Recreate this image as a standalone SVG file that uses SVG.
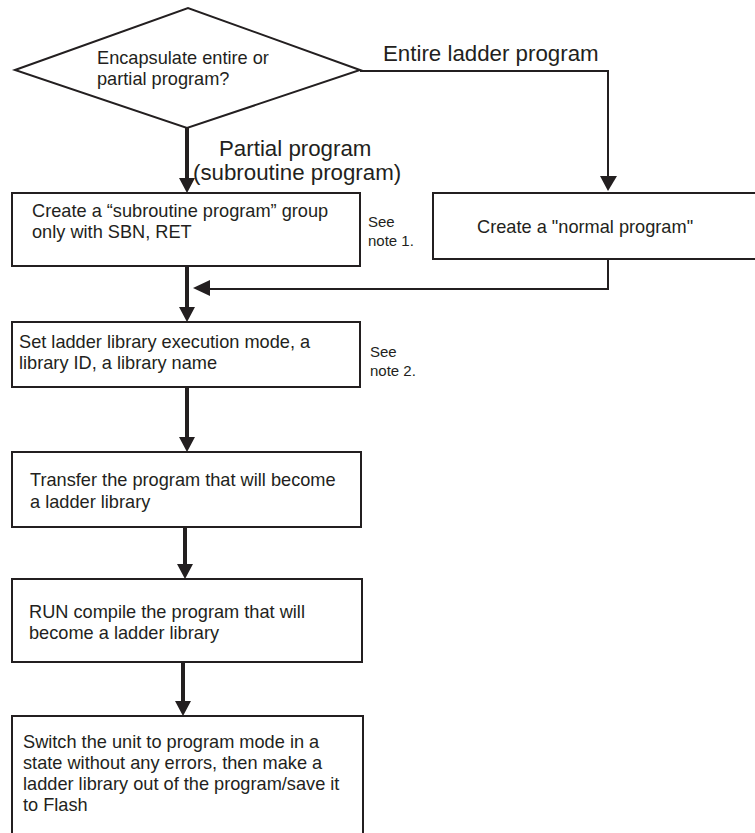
<svg xmlns="http://www.w3.org/2000/svg" width="755" height="833" viewBox="0 0 755 833">
<defs>
<style>
.n{fill:#fff;stroke:#231f20;stroke-width:2}
.t{font-family:"Liberation Sans",Arial,sans-serif;font-size:18.2px;fill:#231f20}
.l{font-family:"Liberation Sans",Arial,sans-serif;font-size:22.3px;fill:#231f20}
.s{font-family:"Liberation Sans",Arial,sans-serif;font-size:15px;fill:#231f20}
.c{fill:none;stroke:#231f20;stroke-width:2}
.k{fill:none;stroke:#231f20;stroke-width:4}
.a{fill:#231f20;stroke:none}
</style>
</defs>
<rect width="755" height="833" fill="#fff"/>
<g id="connectors">
<polyline class="c" points="360,71 608,71 608,178"/>
<polygon class="a" points="600,176 617,176 608,191"/>
<line class="k" x1="187" y1="128" x2="187" y2="180"/>
<polygon class="a" points="179,178 195,178 187,193"/>
<polyline class="c" points="608,259 608,289 210,289"/>
<polygon class="a" points="193,288 210,280 210,296"/>
<line class="k" x1="187" y1="266" x2="187" y2="309"/>
<polygon class="a" points="179,307 195,307 187,322"/>
<line class="k" x1="187" y1="387" x2="187" y2="439"/>
<polygon class="a" points="179,437 195,437 187,452"/>
<line class="k" x1="185" y1="527" x2="185" y2="566"/>
<polygon class="a" points="177,564 193,564 185,579"/>
<line class="k" x1="183" y1="662" x2="183" y2="703"/>
<polygon class="a" points="175,701 191,701 183,716"/>
</g>
<g id="decision">
<polygon class="n" points="15,70 188,8 360,70 187,128"/>
<text class="t" x="97" y="64">Encapsulate entire or</text>
<text class="t" x="97" y="85">partial program?</text>
</g>
<g id="label-entire">
<text class="l" x="383" y="61">Entire ladder program</text>
</g>
<g id="label-partial">
<text class="l" x="219" y="156">Partial program</text>
<text class="l" x="193" y="180">(subroutine program)</text>
</g>
<g id="subroutine">
<rect class="n" x="12" y="193" width="348" height="73"/>
<text class="t" x="32" y="217">Create a “subroutine program” group</text>
<text class="t" x="32" y="238">only with SBN, RET</text>
</g>
<g id="note1">
<text class="s" x="368" y="227">See</text>
<text class="s" x="368" y="246">note 1.</text>
</g>
<g id="normal">
<rect class="n" x="433" y="193" width="330" height="66"/>
<text class="t" x="477" y="233">Create a "normal program"</text>
</g>
<g id="settings">
<rect class="n" x="12" y="322" width="348" height="65"/>
<text class="t" x="19" y="348">Set ladder library execution mode, a</text>
<text class="t" x="19" y="369">library ID, a library name</text>
</g>
<g id="note2">
<text class="s" x="370" y="357">See</text>
<text class="s" x="370" y="376">note 2.</text>
</g>
<g id="transfer">
<rect class="n" x="12" y="452" width="349" height="75"/>
<text class="t" x="30" y="486">Transfer the program that will become</text>
<text class="t" x="30" y="508">a ladder library</text>
</g>
<g id="compile">
<rect class="n" x="12" y="579" width="350" height="83"/>
<text class="t" x="29" y="618">RUN compile the program that will</text>
<text class="t" x="29" y="639">become a ladder library</text>
</g>
<g id="save">
<rect class="n" x="12" y="716" width="351" height="130"/>
<text class="t" x="23" y="748">Switch the unit to program mode in a</text>
<text class="t" x="23" y="769">state without any errors, then make a</text>
<text class="t" x="23" y="790">ladder library out of the program/save it</text>
<text class="t" x="23" y="811">to Flash</text>
</g>
</svg>
